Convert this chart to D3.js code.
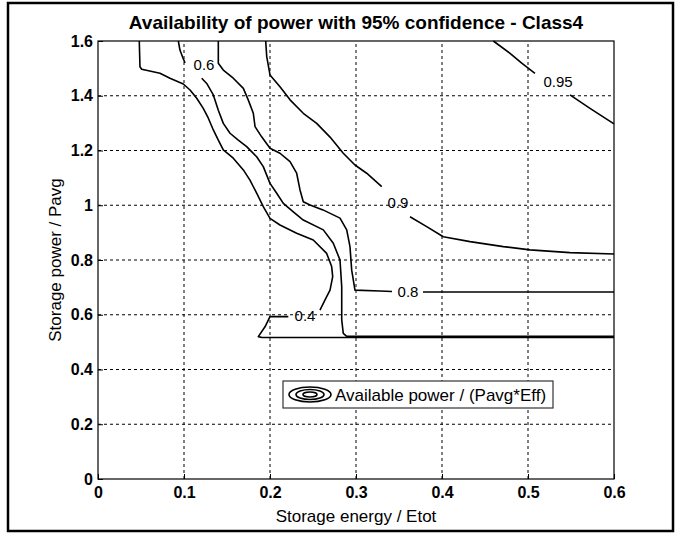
<!DOCTYPE html>
<html>
<head>
<meta charset="utf-8">
<script src="https://cdn.jsdelivr.net/npm/d3@7"></script>
<style>
body { margin: 0; background: #fff; }
text { font-family: "Liberation Sans", Arial, Helvetica, sans-serif; fill: #000; }
</style>
</head>
<body>
<div id="chart"></div>
<script>
const width = 683, height = 541;
const margin = {top: 41, right: 69, bottom: 62, left: 98};

const xTicks = [0, 0.1, 0.2, 0.3, 0.4, 0.5, 0.6];
const yTicks = [0, 0.2, 0.4, 0.6, 0.8, 1, 1.2, 1.4, 1.6];

// contour lines, each level split where its label sits
const lvl04 = [
  [[0.048,1.6],[0.0488,1.506],[0.0508,1.497],[0.0721,1.482],[0.0837,1.464],[0.0992,1.443],[0.107,1.421],
   [0.1148,1.391],[0.1224,1.354],[0.1283,1.318],[0.1341,1.275],[0.1399,1.238],[0.1457,1.202],[0.1573,1.172],
   [0.169,1.129],[0.1767,1.092],[0.1845,1.044],[0.1922,0.995],[0.2,0.952],[0.2116,0.928],[0.231,0.898],
   [0.2503,0.873],[0.2659,0.824],[0.2717,0.776],[0.2729,0.739],[0.2698,0.69],[0.264,0.654],[0.2581,0.617]],
  [[0.2213,0.593],[0.2,0.593],[0.1942,0.556],[0.1864,0.52],[0.1907,0.517],[0.6,0.517]]
];
const lvl06 = [
  [[0.0934,1.6],[0.0953,1.567],[0.0988,1.538],[0.1012,1.52]],
  [[0.1206,1.464],[0.1264,1.445],[0.1341,1.403],[0.1399,1.347],[0.1457,1.299],[0.1535,1.263],[0.1631,1.238],
   [0.1729,1.214],[0.1845,1.177],[0.1922,1.141],[0.2,1.08],[0.2078,1.044],[0.2155,1.007],[0.2271,0.976],
   [0.2387,0.946],[0.262,0.91],[0.2736,0.861],[0.2814,0.8],[0.2834,0.702],[0.2834,0.581],[0.2852,0.532],
   [0.2892,0.521],[0.6,0.521]]
];
const lvl08 = [
  [[0.1399,1.6],[0.1399,1.519],[0.1457,1.494],[0.1573,1.464],[0.169,1.427],[0.1748,1.384],[0.1806,1.336],
   [0.1826,1.287],[0.1903,1.25],[0.2,1.208],[0.2116,1.19],[0.2233,1.159],[0.231,1.117],[0.2349,1.056],
   [0.2387,1.013],[0.2465,1.001],[0.2616,0.983],[0.2814,0.953],[0.2892,0.91],[0.293,0.849],[0.295,0.763],
   [0.2988,0.69],[0.3279,0.687],[0.3419,0.685]],
  [[0.3779,0.683],[0.6,0.683]]
];
const lvl09 = [
  [[0.195,1.6],[0.1962,1.543],[0.2,1.476],[0.2116,1.433],[0.2233,1.385],[0.2387,1.336],[0.2543,1.299],
   [0.2698,1.249],[0.2852,1.19],[0.2988,1.147],[0.3124,1.117],[0.3299,1.068]],
  [[0.3628,0.958],[0.3822,0.922],[0.4015,0.885],[0.4326,0.867],[0.4713,0.849],[0.5023,0.837],[0.5488,0.827],[0.6,0.822]]
];
const lvl095 = [
  [[0.4597,1.6],[0.4791,1.555],[0.4927,1.519],[0.5081,1.482]],
  [[0.5488,1.403],[0.5721,1.354],[0.6,1.297]]
];

const labelText = ["0.4", "0.6", "0.8", "0.9", "0.95"];
const labelX = [0.2407, 0.1233, 0.3605, 0.3488, 0.5349];
const labelY = [0.595, 1.512, 0.683, 1.008, 1.45];

const svg = d3.select("#chart").append("svg")
  .attr("width", width)
  .attr("height", height);

svg.append("rect")
  .attr("x", 8).attr("y", 3)
  .attr("width", 665).attr("height", 528)
  .attr("fill", "#fff")
  .attr("stroke", "#000")
  .attr("stroke-width", 2.5);

const x = d3.scaleLinear().domain([0, 0.6]).range([margin.left, width - margin.right]);
const y = d3.scaleLinear().domain([0, 1.6]).range([height - margin.bottom, margin.top]);

// grid
svg.append("g")
  .selectAll("line")
  .data(xTicks.slice(1, -1))
  .enter().append("line")
    .attr("x1", d => x(d)).attr("x2", d => x(d))
    .attr("y1", y(0)).attr("y2", y(1.6))
    .attr("stroke", "#000")
    .attr("stroke-width", 1)
    .attr("stroke-dasharray", "3,3");
svg.append("g")
  .selectAll("line")
  .data(yTicks.slice(1, -1))
  .enter().append("line")
    .attr("x1", x(0)).attr("x2", x(0.6))
    .attr("y1", d => y(d)).attr("y2", d => y(d))
    .attr("stroke", "#000")
    .attr("stroke-width", 1)
    .attr("stroke-dasharray", "3,3");

// contours
const line = d3.line()
  .x(d => x(d[0]))
  .y(d => y(d[1]));

const contours = svg.append("g")
  .attr("fill", "none")
  .attr("stroke", "#000")
  .attr("stroke-linejoin", "round");
[lvl04, lvl06, lvl08, lvl09, lvl095].forEach(lvl => {
  lvl.forEach(seg => {
    contours.append("path")
      .datum(seg)
      .attr("stroke-width", 1.6)
      .attr("d", line);
  });
});

svg.append("g")
  .selectAll("text")
  .data(labelText)
  .enter().append("text")
    .attr("x", (d, i) => x(labelX[i]))
    .attr("y", (d, i) => y(labelY[i]))
    .attr("dy", "0.35em")
    .attr("text-anchor", "middle")
    .attr("font-size", 15)
    .text(d => d);

// axes (ticks inside, box all round)
const xAxis = g => g
  .attr("transform", `translate(0,${y(0)})`)
  .call(d3.axisBottom(x).tickValues(xTicks).tickSize(-5).tickPadding(8).tickFormat(d => String(d)))
  .call(g => g.select(".domain").remove())
  .call(g => g.selectAll(".tick line").attr("stroke", "#000"))
  .call(g => g.selectAll(".tick text")
    .attr("font-size", 16).attr("font-weight", "bold").attr("fill", "#000"));
const yAxis = g => g
  .attr("transform", `translate(${x(0)},0)`)
  .call(d3.axisLeft(y).tickValues(yTicks).tickSize(-5).tickPadding(5).tickFormat(d => String(d)))
  .call(g => g.select(".domain").remove())
  .call(g => g.selectAll(".tick line").attr("stroke", "#000"))
  .call(g => g.selectAll(".tick text")
    .attr("font-size", 16).attr("font-weight", "bold").attr("fill", "#000"));

svg.append("g").call(xAxis);
svg.append("g").call(yAxis);

svg.append("rect")
  .attr("x", x(0)).attr("y", y(1.6))
  .attr("width", x(0.6) - x(0)).attr("height", y(0) - y(1.6))
  .attr("fill", "none")
  .attr("stroke", "#000")
  .attr("stroke-width", 1.2);

// legend
const leg = svg.append("g").attr("transform", "translate(283,381)");
leg.append("rect")
  .attr("width", 270).attr("height", 27)
  .attr("fill", "#fff")
  .attr("stroke", "#333")
  .attr("stroke-width", 1.2);
leg.selectAll("ellipse")
  .data([[21, 7.5], [14, 5], [7, 2.5]])
  .enter().append("ellipse")
    .attr("cx", 27).attr("cy", 13.5)
    .attr("rx", d => d[0]).attr("ry", d => d[1])
    .attr("fill", "none")
    .attr("stroke", "#000")
    .attr("stroke-width", 1.6);
leg.append("text")
  .attr("x", 52).attr("y", 19.5)
  .attr("font-size", 17)
  .text("Available power / (Pavg*Eff)");

// titles
svg.append("text")
  .attr("x", (x(0) + x(0.6)) / 2).attr("y", 29)
  .attr("text-anchor", "middle")
  .attr("font-size", 19)
  .attr("font-weight", "bold")
  .text("Availability of power with 95% confidence - Class4");
svg.append("text")
  .attr("x", (x(0) + x(0.6)) / 2).attr("y", 522)
  .attr("text-anchor", "middle")
  .attr("font-size", 17)
  .text("Storage energy / Etot");
svg.append("text")
  .attr("transform", `translate(61,${(y(0) + y(1.6)) / 2}) rotate(-90)`)
  .attr("text-anchor", "middle")
  .attr("font-size", 17)
  .text("Storage power / Pavg");
</script>
</body>
</html>
